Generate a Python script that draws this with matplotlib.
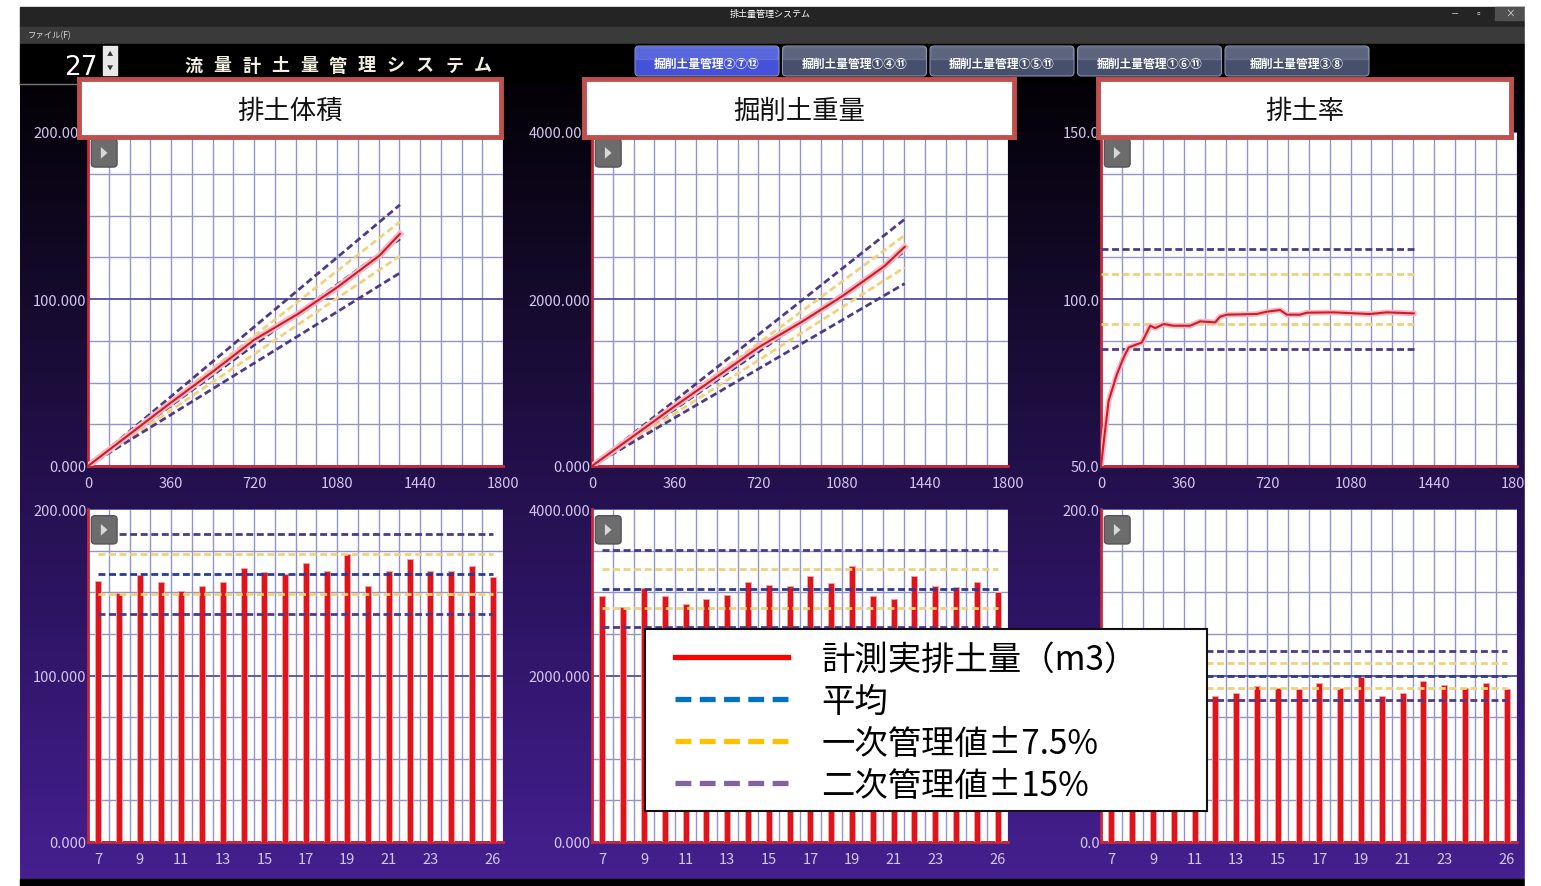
import numpy as np
import matplotlib
matplotlib.use("Agg")
import matplotlib.pyplot as plt
from matplotlib.patches import Rectangle, FancyBboxPatch, Polygon
from matplotlib.lines import Line2D
import matplotlib.patheffects as pe
from matplotlib.colors import LinearSegmentedColormap

plt.rcParams['font.family'] = ['Noto Sans CJK JP', 'DejaVu Sans']

# ---------------- data ----------------
panel_titles = ["排土体積", "掘削土重量", "排土率"]
tab_labels = ["掘削土量管理②⑦⑫", "掘削土量管理①④⑪", "掘削土量管理①⑤⑪",
              "掘削土量管理①⑥⑪", "掘削土量管理③⑧"]
legend_labels = ["計測実排土量（m3）", "平均", "一次管理値±7.5%", "二次管理値±15%"]
window_title = "排土量管理システム"
menu_label = "ファイル(F)"
ring_no = "27"
system_title = "流量計土量管理システム"

# cumulative (top row), time in minutes
t_end = 1353
vol_time = [0, 180, 360, 546, 720, 910, 1081, 1264, 1353]
vol_actual = [0, 19, 38, 57, 75.5, 91, 107, 126, 139]
wt_time = [0, 180, 360, 546, 720, 910, 1081, 1264, 1353]
wt_actual = [0, 360, 720, 1080, 1420, 1730, 2030, 2390, 2624]
vol_plan_end = 136
wt_plan_end = 2570
rate_time = [0, 14, 33, 69, 98, 120, 177, 213, 235, 271, 314, 386, 429, 494,
             515, 544, 674, 717, 775, 804, 861, 890, 1005, 1163, 1236, 1353]
rate_actual = [50, 58.5, 69.5, 77.5, 82.5, 85.5, 87, 92, 91.3, 92.5, 92, 92,
               93.3, 93, 94.7, 95.3, 95.5, 96.2, 96.7, 95.3, 95.3, 95.9, 96,
               95.5, 96, 95.7]
rate_ref = 100

# daily values (bottom row)
days = list(range(7, 27))
day_ticks = [7, 9, 11, 13, 15, 17, 19, 21, 23, 26]
day_vol = [156.6, 149.4, 160.6, 156.2, 151.0, 153.6, 156.4, 164.4, 162.2, 160.8,
           167.6, 162.6, 172.8, 153.6, 163.0, 170.0, 162.8, 162.8, 165.6, 159.2]
day_wt = [2960, 2820, 3048, 2960, 2860, 2920, 2972, 3128, 3088, 3080,
          3192, 3108, 3312, 2952, 2920, 3192, 3072, 3068, 3120, 3000]
day_rate = [90.0, 86.0, 92.0, 90.0, 87.0, 87.6, 89.4, 93.6, 92.4, 92.0,
            95.4, 92.6, 99.0, 87.4, 89.4, 96.6, 94.0, 92.4, 95.2, 91.6]
day_vol_avg = 161
day_wt_avg = 3045
day_rate_avg = 100
level1 = 0.075
level2 = 0.15

# ---------------- styling ----------------
W, H = 1541, 887
RED = '#d01c24'
PURPLE = '#4e3a86'
YELLOW = '#efd27a'
BLUE = '#2e3a98'
GRID = '#9494c8'
GRID_DARK = '#5a5aa8'
SPINE = '#c8283c'
TICKC = '#d3c6f0'


def fa(x0, y0, x1, y1):
    return [x0 / W, 1 - y1 / H, (x1 - x0) / W, (y1 - y0) / H]


fig = plt.figure(figsize=(W / 100, H / 100), dpi=100, facecolor='white')

# ---------------- background / window chrome ----------------
bg = fig.add_axes([0, 0, 1, 1], zorder=-10)
bg.set_xlim(0, W)
bg.set_ylim(H, 0)
bg.axis('off')
cmap = LinearSegmentedColormap.from_list('bgpurple', [
    (0.0, '#000000'), (0.1, '#07030e'), (0.3, '#150a2c'), (0.5, '#22104a'),
    (0.7, '#2f1566'), (0.85, '#3a1a7c'), (1.0, '#45208f')])
grad = np.linspace(0, 1, 256).reshape(-1, 1)
bg.imshow(grad, cmap=cmap, aspect='auto', extent=(20, 1525, 880, 45), zorder=0)
bg.add_patch(Rectangle((20, 8), 1505, 20, color='#242424', zorder=1))
bg.add_patch(Rectangle((20, 28), 1505, 17, color='#3a3a3a', zorder=1))
bg.add_patch(Rectangle((20, 45), 1505, 40, color='#000000', zorder=1))
bg.add_patch(Rectangle((20, 880), 1505, 7, color='#000000', zorder=1))
bg.add_patch(Rectangle((1495, 8), 30, 13, color='#505050', zorder=2))
bg.text(770, 14, window_title, color='white', fontsize=6.5, ha='center', va='center', zorder=3)
bg.text(1455, 14, "－", color='#cccccc', fontsize=6, ha='center', va='center', zorder=3)
bg.text(1478, 13, "▫", color='#cccccc', fontsize=7, ha='center', va='center', zorder=3)
bg.text(1510, 14, "×", color='#dddddd', fontsize=7, ha='center', va='center', zorder=3)
bg.text(28, 36, menu_label, color='#dddddd', fontsize=6, ha='left', va='center', zorder=3)

# ring number spinner
bg.text(98, 68, ring_no, color='white', fontsize=19, ha='right', va='center', zorder=3,
        family=['DejaVu Sans'])
bg.add_patch(Rectangle((103, 47), 14, 29, color='#e8e8e8', zorder=3))
bg.text(110, 54, "▲", color='#333333', fontsize=4.5, ha='center', va='center', zorder=4)
bg.text(110, 69, "▼", color='#333333', fontsize=4.5, ha='center', va='center', zorder=4)
bg.plot([20, 80], [85, 85], color='#777777', lw=1, zorder=3)

# system title
for i, ch in enumerate(system_title):
    bg.text(193 + i * 29.0, 66, ch, color='#f3f0e2', fontsize=13, fontweight='bold',
            ha='center', va='center', zorder=3)

# tabs
for i, lab in enumerate(tab_labels):
    x0 = 635 + i * 147.5
    fc = '#4352d8' if i == 0 else '#46506c'
    bg.add_patch(FancyBboxPatch((x0, 47), 144, 30, boxstyle='round,pad=0,rounding_size=4',
                                fc=fc, ec='#8890b0', lw=0.8, zorder=3))
    bg.add_patch(Rectangle((x0 + 1, 48), 142, 12, color='white', alpha=0.12, zorder=4))
    bg.text(x0 + 72, 64, lab, color='white', fontsize=8.5, fontweight='bold',
            ha='center', va='center', zorder=5)


# ---------------- plot panels ----------------
def style_axes(ax):
    for s in ['top', 'right']:
        ax.spines[s].set_visible(False)
    for s in ['left', 'bottom']:
        ax.spines[s].set_color(SPINE)
        ax.spines[s].set_linewidth(2)
    ax.set_facecolor('white')
    ax.tick_params(which='both', length=0, colors=TICKC, labelsize=10.5)
    ax.tick_params(axis='x', pad=7)
    ax.tick_params(axis='y', pad=1)
    ax.set_axisbelow(True)


def add_button(ax):
    ax.add_patch(FancyBboxPatch((0.008, 0.895), 0.062, 0.085,
                                boxstyle='round,pad=0,rounding_size=0.01',
                                transform=ax.transAxes, fc='#6c6c6c', ec='#555555',
                                lw=1, zorder=6, clip_on=False))
    ax.add_patch(Polygon([[0.031, 0.92], [0.031, 0.955], [0.047, 0.9375]], closed=True,
                         transform=ax.transAxes, fc='#d8d8d8', ec='none', zorder=7))


def fmt3(v):
    return f"{v:.3f}"


top_pos = [fa(88, 133, 503, 467), fa(592, 133, 1008, 467), fa(1101, 133, 1517, 467)]
bot_pos = [fa(88, 510, 503, 843), fa(592, 510, 1008, 843), fa(1101, 510, 1517, 843)]

top_specs = [
    (vol_time, vol_actual, vol_plan_end, (0, 200), 25),
    (wt_time, wt_actual, wt_plan_end, (0, 4000), 500),
]
for k, (tt, yy, plan_end, ylim, ystep) in enumerate(top_specs):
    ax = fig.add_axes(top_pos[k])
    style_axes(ax)
    ax.set_xlim(0, 1800)
    ax.set_ylim(*ylim)
    ax.set_xticks(np.arange(0, 1801, 360))
    ax.set_xticks(np.arange(0, 1801, 90), minor=True)
    ax.set_yticks([ylim[0], (ylim[0] + ylim[1]) / 2, ylim[1]])
    ax.set_yticklabels([fmt3(v) for v in ax.get_yticks()])
    ax.set_yticks(np.arange(ylim[0], ylim[1] + 1, ystep), minor=True)
    ax.grid(axis='x', which='both', color=GRID, lw=1)
    ax.grid(axis='y', which='minor', color=GRID, lw=1)
    ax.grid(axis='y', which='major', color=GRID_DARK, lw=1.4)
    for f, c in [(1 + level2, PURPLE), (1 + level1, YELLOW), (1.0, BLUE),
                 (1 - level1, YELLOW), (1 - level2, PURPLE)]:
        ax.plot([0, t_end], [0, plan_end * f], color=c, lw=2, ls=(0, (2.5, 1.3)), zorder=3)
    ax.plot(tt, yy, color=RED, lw=1.5, zorder=4,
            path_effects=[pe.Stroke(linewidth=4.5, foreground='#f6b8c4'), pe.Normal()])
    add_button(ax)

# rate panel
ax = fig.add_axes(top_pos[2])
style_axes(ax)
ax.set_xlim(0, 1800)
ax.set_ylim(50, 150)
ax.set_xticks(np.arange(0, 1801, 360))
ax.set_xticklabels(['0', '360', '720', '1080', '1440', '1800'])
ax.set_xticks(np.arange(0, 1801, 90), minor=True)
ax.set_yticks([50, 100, 150])
ax.set_yticklabels(['50.0', '100.0', '150.0'])
ax.set_yticks(np.arange(50, 151, 12.5), minor=True)
ax.grid(axis='x', which='both', color=GRID, lw=1)
ax.grid(axis='y', which='minor', color=GRID, lw=1)
ax.grid(axis='y', which='major', color=GRID_DARK, lw=1.4)
for f, c in [(1 + level2, PURPLE), (1 + level1, YELLOW),
             (1 - level1, YELLOW), (1 - level2, PURPLE)]:
    ax.hlines(rate_ref * f, 0, t_end, color=c, lw=2, ls=(0, (2.5, 1.3)), zorder=3)
ax.plot(rate_time, rate_actual, color=RED, lw=1.5, zorder=4,
        path_effects=[pe.Stroke(linewidth=4, foreground='#f6b8c4'), pe.Normal()])
add_button(ax)

# bottom bar panels
bot_specs = [
    (day_vol, day_vol_avg, (0, 200), 25, fmt3),
    (day_wt, day_wt_avg, (0, 4000), 500, fmt3),
    (day_rate, day_rate_avg, (0, 200), 25, lambda v: f"{v:.1f}"),
]
for k, (vals, avg, ylim, ystep, fm) in enumerate(bot_specs):
    ax = fig.add_axes(bot_pos[k])
    style_axes(ax)
    ax.set_xlim(6.5, 26.5)
    ax.set_ylim(*ylim)
    ax.set_xticks(day_ticks)
    ax.set_xticks(np.arange(6.5, 27, 1), minor=True)
    ax.set_yticks([ylim[0], (ylim[0] + ylim[1]) / 2, ylim[1]])
    ax.set_yticklabels([fm(v) for v in ax.get_yticks()])
    ax.set_yticks(np.arange(ylim[0], ylim[1] + 1, ystep), minor=True)
    ax.grid(axis='x', which='minor', color=GRID, lw=1)
    ax.grid(axis='y', which='minor', color=GRID, lw=1)
    ax.grid(axis='y', which='major', color=GRID_DARK, lw=1.4)
    ax.bar(days, vals, width=0.28, color='#e0141c', edgecolor='#f3a6a6', lw=0.6, zorder=3)
    for f, c in [(1 + level2, PURPLE), (1 + level1, YELLOW), (1.0, BLUE),
                 (1 - level1, YELLOW), (1 - level2, PURPLE)]:
        ax.hlines(avg * f, days[0], days[-1], color=c, lw=2, ls=(0, (2.5, 1.3)), zorder=4)
    add_button(ax)

# ---------------- title boxes ----------------
for (x0, x1), title in zip([(79, 501), (584, 1014), (1098, 1511)], panel_titles):
    tax = fig.add_axes(fa(x0, 80, x1, 138), zorder=5)
    tax.set_xticks([])
    tax.set_yticks([])
    tax.set_facecolor('white')
    for s in tax.spines.values():
        s.set_color('#c0504d')
        s.set_linewidth(3.5)
    tax.text(0.5, 0.46, title, ha='center', va='center', fontsize=19, color='#111111',
             transform=tax.transAxes)

# ---------------- legend box ----------------
lax = fig.add_axes(fa(645, 630, 1207, 812), zorder=6)
lax.set_xticks([])
lax.set_yticks([])
lax.set_facecolor('white')
for s in lax.spines.values():
    s.set_color('#111111')
    s.set_linewidth(1.5)
handles = [
    Line2D([], [], color='#ff0000', lw=3.8),
    Line2D([], [], color='#0070c0', lw=3.8, ls=(0, (3, 1.6))),
    Line2D([], [], color='#ffc000', lw=3.8, ls=(0, (3, 1.6))),
    Line2D([], [], color='#8064a2', lw=3.8, ls=(0, (3, 1.6))),
]
lax.legend(handles, legend_labels, loc='upper left', bbox_to_anchor=(0.053, 0.93),
           frameon=False, fontsize=24, handlelength=3.4, handletextpad=1.0,
           labelspacing=0.21, borderpad=0, borderaxespad=0)

# white margin to the right of the window
fig.add_artist(Rectangle((1525 / W, 0), 1 - 1525 / W, 1, transform=fig.transFigure,
                         color='white', zorder=20))

fig.savefig('out.png', dpi=100, facecolor='white')
